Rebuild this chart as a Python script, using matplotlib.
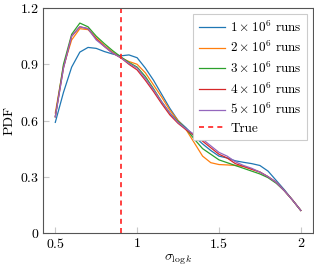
import numpy as np
import matplotlib
matplotlib.use('Agg')
import matplotlib.pyplot as plt

plt.rcParams['font.family'] = 'serif'
plt.rcParams['font.serif'] = ['cmr10']
plt.rcParams['mathtext.fontset'] = 'cm'
plt.rcParams['axes.unicode_minus'] = False

x = np.round(np.arange(0.5, 2.0001, 0.05), 2)

runs_1 = [0.59, 0.75, 0.885, 0.965, 0.99, 0.985, 0.968, 0.955, 0.945, 0.95,
          0.935, 0.88, 0.815, 0.74, 0.665, 0.60, 0.56, 0.515, 0.475, 0.44,
          0.41, 0.40, 0.385, 0.377, 0.37, 0.36, 0.33, 0.28, 0.23, 0.175, 0.12]
runs_2 = [0.64, 0.89, 1.03, 1.09, 1.085, 1.04, 1.0, 0.965, 0.935, 0.915,
          0.90, 0.855, 0.79, 0.725, 0.655, 0.60, 0.55, 0.48, 0.41, 0.375,
          0.365, 0.363, 0.36, 0.355, 0.34, 0.325, 0.30, 0.27, 0.225, 0.175, 0.12]
runs_3 = [0.62, 0.90, 1.06, 1.12, 1.10, 1.05, 1.01, 0.973, 0.94, 0.91,
          0.885, 0.835, 0.77, 0.70, 0.64, 0.595, 0.555, 0.50, 0.45, 0.42,
          0.39, 0.375, 0.36, 0.345, 0.33, 0.315, 0.295, 0.265, 0.225, 0.175, 0.12]
runs_4 = [0.62, 0.88, 1.05, 1.10, 1.09, 1.035, 0.995, 0.96, 0.935, 0.90,
          0.87, 0.815, 0.755, 0.69, 0.63, 0.585, 0.55, 0.52, 0.49, 0.455,
          0.42, 0.40, 0.37, 0.355, 0.34, 0.325, 0.30, 0.27, 0.225, 0.175, 0.12]
runs_5 = [0.62, 0.88, 1.05, 1.10, 1.09, 1.03, 0.995, 0.96, 0.935, 0.905,
          0.88, 0.825, 0.765, 0.70, 0.64, 0.59, 0.555, 0.525, 0.50, 0.465,
          0.43, 0.41, 0.38, 0.36, 0.345, 0.325, 0.30, 0.27, 0.225, 0.175, 0.12]

labels = [r'$1\times10^6$ runs', r'$2\times10^6$ runs', r'$3\times10^6$ runs',
          r'$4\times10^6$ runs', r'$5\times10^6$ runs']
true_value = 0.9

xticks = [0.5, 1, 1.5, 2]
yticks = [0, 0.3, 0.6, 0.9, 1.2]

fig = plt.figure(figsize=(3.14, 2.69), dpi=100)
ax = fig.add_axes([0.137, 0.134, 0.86, 0.836])

for ys, lab in zip([runs_1, runs_2, runs_3, runs_4, runs_5], labels):
    ax.plot(x, ys, lw=0.9, label=lab)
ax.axvline(true_value, color='#ff2020', lw=1.2, ls=(0, (3, 2.5)), label='True')

ax.set_xlim(0.425, 2.075)
ax.set_ylim(0, 1.2)
ax.set_xticks(xticks)
ax.set_xticklabels(['$0.5$', '$1$', '$1.5$', '$2$'], fontsize=10)
ax.set_yticks(yticks)
ax.set_yticklabels(['$0$', '$0.3$', '$0.6$', '$0.9$', '$1.2$'], fontsize=10)
ax.tick_params(direction='in', length=4, color='#c8c8c8', width=0.8, pad=3)
for s in ax.spines.values():
    s.set_color('#555555')
    s.set_linewidth(0.8)

ax.set_xlabel(r'$\sigma_{\log k}$', fontsize=10, labelpad=1)
ax.set_ylabel('PDF', fontsize=10, labelpad=3)

leg = ax.legend(loc='upper right', fontsize=9.5, fancybox=False, framealpha=1,
                edgecolor='#cccccc', handlelength=2.0, handletextpad=0.4,
                labelspacing=0.4, borderpad=0.4, borderaxespad=0.45)
leg.get_frame().set_linewidth(0.8)

fig.savefig('out.png', dpi=100)
